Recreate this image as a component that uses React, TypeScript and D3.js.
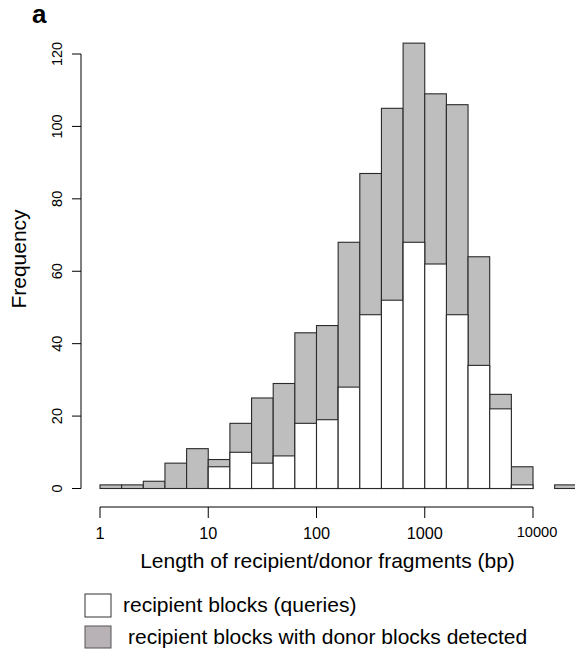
import React from "react";
import * as d3 from "d3";

// Histogram bin breaks (log-spaced, bp)
const breaks = [1, 1.585, 2.512, 3.981, 6.31, 10, 15.85, 25.12, 39.81, 63.1, 100, 158.5, 251.2, 398.1, 631, 1000, 1585, 2512, 3981, 6310, 10000, 15850, 25120];
// recipient blocks with donor blocks detected (gray, total)
const totalCounts = [1, 1, 2, 7, 11, 8, 18, 25, 29, 43, 45, 68, 87, 105, 123, 109, 106, 64, 26, 6, 0, 1];
// recipient blocks (queries) (white)
const queryCounts = [0, 0, 0, 0, 0, 6, 10, 7, 9, 18, 19, 28, 48, 52, 68, 62, 48, 34, 22, 1, 0, 0];
const xTicks = [1, 10, 100, 1000, 10000];
const xTickLabels = ["1", "10", "100", "1000", "10000"];
const yTicks = [0, 20, 40, 60, 80, 100, 120];
const legendLabels = ["recipient blocks (queries)", "recipient blocks with donor blocks detected"];

const FONT = "'Liberation Sans', Arial, Helvetica, sans-serif";

export default function App() {
  const x = d3.scaleLog().domain([1, 10000]).range([100, 533]);
  const y = d3.scaleLinear().domain([0, 120]).range([488.5, 54]);
  const axisY = 507;
  const axisX = 81;
  const stroke = "#2a2a2a";

  const bins = totalCounts.map((t, i) => ({ x0: breaks[i], x1: breaks[i + 1], total: t, query: queryCounts[i] }));

  return (
    <svg width={575} height={652} style={{ position: "absolute", left: 0, top: 0, background: "#fff" }} fontFamily={FONT}>
      <text x={32} y={23} fontSize={26} fontWeight="bold" fill="#000">a</text>

      {/* gray bars */}
      {bins.map((b, i) => (
        <rect key={"t" + i} x={x(b.x0)} y={y(b.total)} width={x(b.x1) - x(b.x0)} height={y(0) - y(b.total)}
          fill="#bebebe" stroke={stroke} strokeWidth={1.1} />
      ))}
      {/* white bars */}
      {bins.map((b, i) => (
        b.query > 0 ? (
          <rect key={"q" + i} x={x(b.x0)} y={y(b.query)} width={x(b.x1) - x(b.x0)} height={y(0) - y(b.query)}
            fill="#ffffff" stroke={stroke} strokeWidth={1.1} />
        ) : null
      ))}

      {/* y axis */}
      <line x1={axisX} x2={axisX} y1={y(120)} y2={y(0)} stroke="#000" strokeWidth={1} />
      {yTicks.map((t) => (
        <g key={"yt" + t}>
          <line x1={axisX - 9} x2={axisX} y1={y(t)} y2={y(t)} stroke="#000" strokeWidth={1} />
          <text transform={`translate(62,${y(t)}) rotate(-90)`} textAnchor="middle" fontSize={14.5} fill="#000">{t}</text>
        </g>
      ))}
      <text transform={`translate(26,259) rotate(-90)`} textAnchor="middle" fontSize={21} fill="#000">Frequency</text>

      {/* x axis */}
      <line x1={x(1)} x2={x(10000)} y1={axisY} y2={axisY} stroke="#000" strokeWidth={1} />
      {xTicks.map((t, i) => (
        <g key={"xt" + t}>
          <line x1={x(t)} x2={x(t)} y1={axisY} y2={axisY + 11} stroke="#000" strokeWidth={1} />
          <text x={x(t) + (i === 4 ? 4 : 0)} y={i === 4 ? 537 : 539} textAnchor="middle" fontSize={i === 4 ? 14.6 : 16.3} fill="#000">{xTickLabels[i]}</text>
        </g>
      ))}
      <text x={327.5} y={568} textAnchor="middle" fontSize={21} fill="#000">Length of recipient/donor fragments (bp)</text>

      {/* legend */}
      <rect x={85} y={594} width={26} height={23} fill="#fff" stroke="#333" strokeWidth={1} />
      <text x={123} y={612} fontSize={21} fill="#000">{legendLabels[0]}</text>
      <rect x={85} y={626} width={26} height={22} fill="#b8b2b6" stroke="#555" strokeWidth={1} />
      <text x={128} y={644} fontSize={21} fill="#000">{legendLabels[1]}</text>
    </svg>
  );
}
